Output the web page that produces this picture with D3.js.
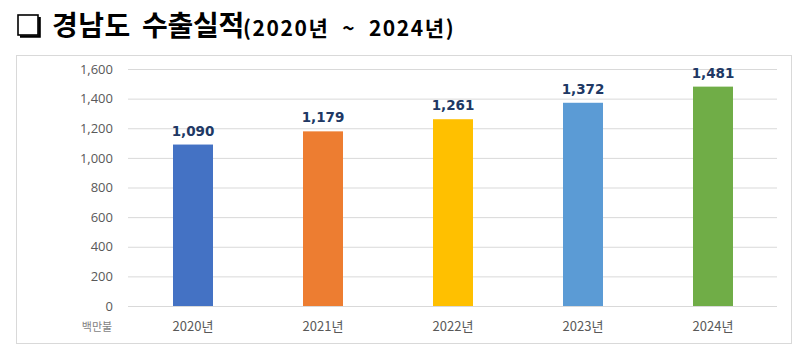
<!DOCTYPE html>
<html><head><meta charset="utf-8">
<script src="https://cdn.jsdelivr.net/npm/d3@7"></script>
<style>body{margin:0;background:#fff}svg{display:block}</style>
</head><body>
<script>
const categories = ["2020년","2021년","2022년","2023년","2024년"];
const values = [1090,1179,1261,1372,1481];
const colors = ["#4472C4","#ED7D31","#FFC000","#5B9BD5","#70AD47"];
const yTicks = [0,200,400,600,800,1000,1200,1400,1600];
const unitLabel = "백만불";
const titleWords = ["경남도","수출실적"];
const titleSub = "(2020년 ~ 2024년)";

const W=800,H=360;
const svg=d3.select("body").append("svg").attr("width",W).attr("height",H);

// title box symbol
svg.append("rect").attr("x",18).attr("y",15).attr("width",20).attr("height",20)
  .attr("fill","#fff").attr("stroke","#000").attr("stroke-width",1.6);
svg.append("path").attr("d","M20,36.5 H39.5 V17").attr("fill","none").attr("stroke","#000").attr("stroke-width",2.6);
const title=svg.append("text").attr("x",52).attr("y",36)
  .attr("font-family","'Noto Sans CJK KR'").attr("font-weight","bold").attr("fill","#000");
title.append("tspan").attr("font-size",28).attr("letter-spacing",0.5).text(titleWords[0]);
title.append("tspan").attr("font-size",28).attr("x",142).attr("letter-spacing",-0.3).text(titleWords[1]);
title.append("tspan").attr("font-size",21).attr("x",243).attr("letter-spacing",1.6).text(titleSub.replace(" ~ ","  ~  "))
  .style("white-space","pre");

// chart frame
svg.append("rect").attr("x",16.5).attr("y",55.5).attr("width",775).attr("height",288)
  .attr("fill","#fff").attr("stroke","#D9D9D9").attr("stroke-width",1);

const x=d3.scaleBand().domain(categories).range([128,778]).paddingInner(0).paddingOuter(0);
const y=d3.scaleLinear().domain([0,1600]).range([306,69]);
const barW=40;

const yAxis=d3.axisLeft(y).tickValues(yTicks).tickSize(-649).tickFormat(d3.format(","));
const gy=svg.append("g").attr("transform","translate(128,0)").call(yAxis);
gy.select(".domain").remove();
gy.selectAll(".tick line").attr("stroke","#D9D9D9").attr("stroke-width",1);
gy.selectAll(".tick text").attr("x",-15).attr("fill","#595959")
  .attr("font-family","'Open Sans'").attr("font-size",13);

const xAxis=d3.axisBottom(x).tickSize(0);
const gx=svg.append("g").attr("transform","translate(0,306)").call(xAxis);
gx.select(".domain").remove();
gx.selectAll(".tick text").attr("dy",0).attr("y",25).attr("fill","#595959")
  .attr("font-family","'Noto Sans CJK KR'").attr("font-size",13);

svg.append("text").attr("x",97).attr("y",331).attr("text-anchor","middle")
  .attr("fill","#7F7F7F").attr("font-family","'Noto Sans CJK KR'").attr("font-size",11).text(unitLabel);

svg.selectAll("rect.bar").data(values).enter().append("rect").attr("class","bar")
  .attr("x",(d,i)=>x(categories[i])+x.bandwidth()/2-barW/2)
  .attr("width",barW)
  .attr("y",d=>y(d)).attr("height",d=>y(0)-y(d))
  .attr("fill",(d,i)=>colors[i]);

svg.selectAll("text.val").data(values).enter().append("text").attr("class","val")
  .attr("x",(d,i)=>x(categories[i])+x.bandwidth()/2)
  .attr("y",d=>y(d)-9).attr("text-anchor","middle")
  .attr("fill","#203864").attr("font-family","Verdana, 'DejaVu Sans'").attr("font-weight","bold").attr("font-size",13.5)
  .text(d=>d3.format(",")(d));
</script>
</body></html>
